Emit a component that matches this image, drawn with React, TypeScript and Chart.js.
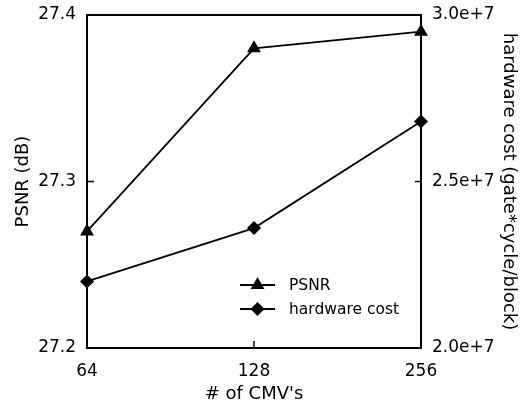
import React, { useEffect, useRef } from 'react';
import { Chart, registerables } from 'chart.js';

Chart.register(...registerables);

const cmvLabels = ['64', '128', '256'];
const psnrValues = [27.27, 27.38, 27.39];
const hardwareCostValues = [2.2e7, 2.36e7, 2.68e7];
const psnrRange = [27.2, 27.4];
const costRange = [2.0e7, 3.0e7];
const seriesNames = ['PSNR', 'hardware cost'];

const FONT = "'DejaVu Sans', 'Liberation Sans', Arial, sans-serif";

function markerPath(ctx: CanvasRenderingContext2D, style: string, x: number, y: number, r: number) {
  ctx.beginPath();
  if (style === 'triangle') {
    let rad = 0;
    ctx.moveTo(x + Math.sin(rad) * r, y - Math.cos(rad) * r);
    rad += (2 * Math.PI) / 3;
    ctx.lineTo(x + Math.sin(rad) * r, y - Math.cos(rad) * r);
    rad += (2 * Math.PI) / 3;
    ctx.lineTo(x + Math.sin(rad) * r, y - Math.cos(rad) * r);
  } else {
    ctx.moveTo(x - r, y);
    ctx.lineTo(x, y - r);
    ctx.lineTo(x + r, y);
    ctx.lineTo(x, y + r);
  }
  ctx.closePath();
  ctx.fill();
}

const framePlugin = {
  id: 'frameAndTicks',
  afterDatasetsDraw(chart: any) {
    const { ctx, chartArea } = chart;
    const { left, right, top, bottom } = chartArea;
    ctx.save();
    ctx.strokeStyle = '#000';
    ctx.lineWidth = 2;
    ctx.strokeRect(left, top, right - left, bottom - top);
    ctx.lineWidth = 1.5;
    const yL = chart.scales.y;
    const yR = chart.scales.y1;
    const xS = chart.scales.x;
    ctx.beginPath();
    yL.ticks.forEach((t: any) => {
      const py = yL.getPixelForValue(t.value);
      ctx.moveTo(left, py);
      ctx.lineTo(left + 7, py);
    });
    yR.ticks.forEach((t: any) => {
      const py = yR.getPixelForValue(t.value);
      ctx.moveTo(right, py);
      ctx.lineTo(right - 6, py);
    });
    xS.ticks.forEach((t: any, i: number) => {
      const px = xS.getPixelForTick(i);
      ctx.moveTo(px, bottom);
      ctx.lineTo(px, bottom - 7);
    });
    ctx.stroke();
    ctx.restore();
  },
};

const legendPlugin = {
  id: 'insideLegend',
  afterDraw(chart: any, _args: any, opts: any) {
    const { ctx } = chart;
    ctx.save();
    chart.data.datasets.forEach((ds: any, i: number) => {
      const y = opts.y + i * opts.rowGap;
      ctx.strokeStyle = ds.borderColor;
      ctx.lineWidth = 2;
      ctx.beginPath();
      ctx.moveTo(opts.x, y);
      ctx.lineTo(opts.x + opts.lineLen, y);
      ctx.stroke();
      ctx.fillStyle = ds.pointBackgroundColor;
      markerPath(ctx, ds.pointStyle, opts.x + opts.lineLen / 2, y, ds.pointRadius);
      ctx.fillStyle = '#000';
      ctx.font = `15.5px ${FONT}`;
      ctx.textBaseline = 'middle';
      ctx.textAlign = 'left';
      ctx.fillText(ds.label, opts.x + opts.lineLen + 14, y + 1);
    });
    ctx.restore();
  },
};

export default function App() {
  const ref = useRef<HTMLCanvasElement>(null);

  useEffect(() => {
    if (!ref.current) return;
    const tickFont = { family: FONT, size: 17 };
    const titleFont = { family: FONT, size: 18 };
    const chart = new Chart(ref.current, {
      type: 'line',
      data: {
        labels: cmvLabels,
        datasets: [
          {
            label: seriesNames[0],
            data: psnrValues,
            yAxisID: 'y',
            borderColor: '#000',
            borderWidth: 1.8,
            pointStyle: 'triangle',
            pointRadius: 8,
            pointBackgroundColor: '#000',
            pointBorderWidth: 0,
            tension: 0,
          },
          {
            label: seriesNames[1],
            data: hardwareCostValues,
            yAxisID: 'y1',
            borderColor: '#000',
            borderWidth: 1.8,
            pointStyle: 'rectRot',
            pointRadius: 7,
            pointBackgroundColor: '#000',
            pointBorderWidth: 0,
            tension: 0,
          },
        ] as any,
      },
      options: {
        animation: false,
        responsive: false,
        layout: { padding: { top: 15, left: 0, right: 0, bottom: 0 } },
        plugins: {
          legend: { display: false },
          tooltip: { enabled: false },
          insideLegend: { x: 240, y: 285, rowGap: 24, lineLen: 35 },
        } as any,
        scales: {
          x: {
            type: 'category',
            offset: false,
            grid: { display: false, drawTicks: false },
            border: { display: false },
            ticks: { font: tickFont, color: '#000', padding: 13, maxRotation: 0, autoSkip: false },
            title: { display: true, text: "# of CMV's", font: titleFont, color: '#000', padding: { top: 0, bottom: 3 } },
            afterFit: (s: any) => {
              s.height = 60;
              s.paddingLeft = 0;
              s.paddingRight = 0;
            },
          },
          y: {
            position: 'left',
            min: psnrRange[0],
            max: psnrRange[1],
            grid: { display: false, drawTicks: false },
            border: { display: false },
            ticks: {
              stepSize: 0.1,
              font: tickFont,
              color: '#000',
              padding: 11,
              callback: (v: any) => Number(v).toFixed(1),
            },
            title: { display: true, text: 'PSNR (dB)', font: titleFont, color: '#000', padding: { top: 13, bottom: 0 } },
            afterFit: (s: any) => {
              s.width = 87;
              s.paddingTop = 0;
              s.paddingBottom = 0;
            },
          },
          y1: {
            position: 'right',
            min: costRange[0],
            max: costRange[1],
            grid: { display: false, drawTicks: false },
            border: { display: false },
            ticks: {
              stepSize: 5e6,
              font: tickFont,
              color: '#000',
              padding: 11,
              callback: (v: any) => (Number(v) / 1e7).toFixed(1) + 'e+7',
            },
            title: {
              display: true,
              text: 'hardware cost (gate*cycle/block)',
              font: titleFont,
              color: '#000',
              padding: { top: 2, bottom: 0 },
            },
            afterFit: (s: any) => {
              s.width = 100;
              s.paddingTop = 0;
              s.paddingBottom = 0;
            },
          },
        } as any,
      },
      plugins: [framePlugin, legendPlugin],
    });
    return () => chart.destroy();
  }, []);

  return (
    <div style={{ position: 'fixed', left: 0, top: 0, width: 521, height: 408, background: '#fff' }}>
      <canvas ref={ref} width={521} height={408} style={{ display: 'block' }} />
    </div>
  );
}
